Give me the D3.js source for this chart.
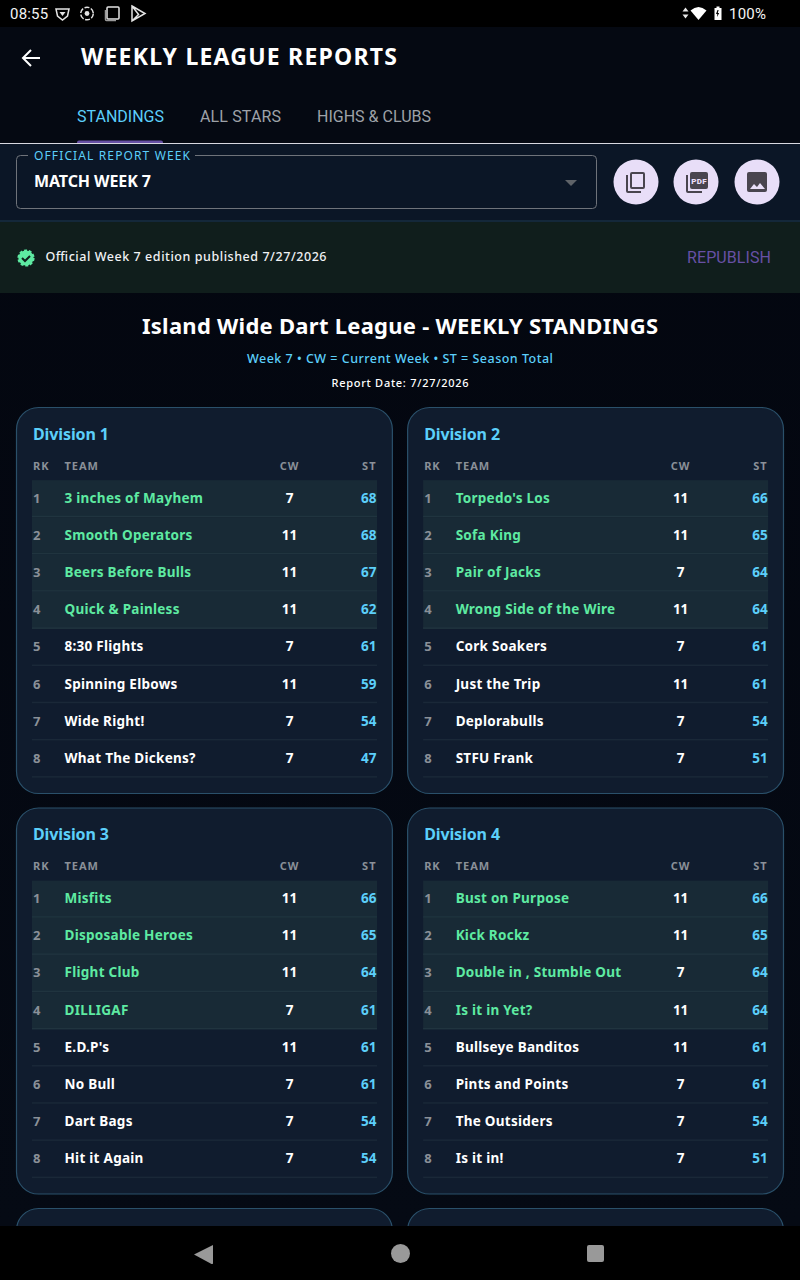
<!DOCTYPE html>
<html><head><meta charset="utf-8">
<script src="https://cdn.jsdelivr.net/npm/d3@7/dist/d3.min.js"></script>
<style>html,body{margin:0;padding:0;background:#000;overflow:hidden}svg{display:block}</style>
</head><body><div id="c"></div>
<script>
const divisionNames = ["Division 1","Division 2","Division 3","Division 4"];
const ranks = [1,2,3,4,5,6,7,8];
const columnLabels = ["RK","TEAM","CW","ST"];
const tabLabels = ["STANDINGS","ALL STARS","HIGHS & CLUBS"];
const teamsD1 = ["3 inches of Mayhem","Smooth Operators","Beers Before Bulls","Quick & Painless","8:30 Flights","Spinning Elbows","Wide Right!","What The Dickens?"];
const cwD1 = [7,11,11,11,7,11,7,7];
const stD1 = [68,68,67,62,61,59,54,47];
const teamsD2 = ["Torpedo's Los","Sofa King","Pair of Jacks","Wrong Side of the Wire","Cork Soakers","Just the Trip","Deplorabulls","STFU Frank"];
const cwD2 = [11,11,7,11,7,11,7,7];
const stD2 = [66,65,64,64,61,61,54,51];
const teamsD3 = ["Misfits","Disposable Heroes","Flight Club","DILLIGAF","E.D.P's","No Bull","Dart Bags","Hit it Again"];
const cwD3 = [11,11,11,7,11,7,7,7];
const stD3 = [66,65,64,61,61,61,54,54];
const teamsD4 = ["Bust on Purpose","Kick Rockz","Double in , Stumble Out","Is it in Yet?","Bullseye Banditos","Pints and Points","The Outsiders","Is it in!"];
const cwD4 = [11,11,7,11,11,7,7,7];
const stD4 = [66,65,64,64,61,61,54,51];
const allTeams=[teamsD1,teamsD2,teamsD3,teamsD4], allCw=[cwD1,cwD2,cwD3,cwD4], allSt=[stD1,stD2,stD3,stD4];
const playoffCut = 4;

const W=800,H=1280;
const UI='Roboto, sans-serif', DISP='"Noto Sans", Roboto, sans-serif';
const BLUE='#5ccffa', GREEN='#5eeaa2';
const svg=d3.select('#c').append('svg').attr('width',W).attr('height',H).attr('viewBox',`0 0 ${W} ${H}`);
const defs=svg.append('defs');
const g0=defs.append('linearGradient').attr('id','bg').attr('x1',0).attr('x2',0).attr('y1',0).attr('y2',1);
g0.append('stop').attr('offset',0).attr('stop-color','#03060f');
g0.append('stop').attr('offset',1).attr('stop-color','#050a14');
const cp=defs.append('clipPath').attr('id','view');cp.append('rect').attr('x',0).attr('y',27).attr('width',W).attr('height',1199);

function T(p,x,y,s,o={}){
  const t=p.append('text').attr('x',x).attr('y',y).text(s)
   .attr('font-family',o.f||DISP).attr('font-size',o.s||13).attr('font-weight',o.w||700)
   .attr('fill',o.c||'#fff').attr('text-anchor',o.a||'start');
  if(o.ls!=null)t.attr('letter-spacing',o.ls);
  if(o.len)t.attr('textLength',o.len).attr('lengthAdjust','spacing');
  return t;
}
svg.append('rect').attr('width',W).attr('height',H).attr('fill','#000');
const app=svg.append('g').attr('clip-path','url(#view)');
app.append('rect').attr('y',27).attr('width',W).attr('height',1199).attr('fill','url(#bg)');
// top bar
app.append('rect').attr('y',27).attr('width',W).attr('height',116).attr('fill','#050912');
app.append('path').attr('d','M40 58H23M31 50l-8 8 8 8').attr('fill','none').attr('stroke','#fff').attr('stroke-width',2);
T(app,81,65,'WEEKLY LEAGUE REPORTS',{s:23,w:700,len:316});
// tabs
const tabX=[77,200,317],tabW=[87,81,114];
tabLabels.forEach((l,i)=>T(app,tabX[i],122,l,{f:UI,s:16,w:400,c:i?'#9ea2a8':BLUE,len:tabW[i]}));
app.append('rect').attr('y',143).attr('width',W).attr('height',1).attr('fill','#d8d8e0');
app.append('path').attr('d','M77 143v-.5a2 2 0 0 1 2-2h82a2 2 0 0 1 2 2v.5z').attr('fill','#6750a4');
// control band
app.append('rect').attr('y',144).attr('width',W).attr('height',76).attr('fill','#0b1626');
app.append('rect').attr('y',220).attr('width',W).attr('height',2).attr('fill','#14283a');
app.append('rect').attr('x',16.5).attr('y',155.5).attr('width',580).attr('height',53).attr('rx',4).attr('fill','none').attr('stroke','#6f737a');
app.append('rect').attr('x',28).attr('y',150).attr('width',167).attr('height',12).attr('fill','#0b1626');
T(app,34,160,'OFFICIAL REPORT WEEK',{s:12,w:400,c:BLUE,len:156});
T(app,34,187,'MATCH WEEK 7',{s:16,w:700,len:117});
app.append('path').attr('d','M565 180h12l-6 6z').attr('fill','#5f6368');
const ic=[636,696,757];
ic.forEach(x=>app.append('circle').attr('cx',x).attr('cy',182).attr('r',22.5).attr('fill','#e8def8'));
const ib=app.append('g').attr('fill','#49454f');
ib.append('path').attr('d','M626 175h2v16h13v2h-13a2 2 0 0 1-2-2zM632 172h11a2 2 0 0 1 2 2v13a2 2 0 0 1-2 2h-11a2 2 0 0 1-2-2v-13a2 2 0 0 1 2-2zM632 174v13h11v-13z').attr('fill-rule','evenodd');
ib.append('path').attr('d','M686 175h2v16h14v2h-14a2 2 0 0 1-2-2zM692 172h14a2 2 0 0 1 2 2v13a2 2 0 0 1-2 2h-14a2 2 0 0 1-2-2v-13a2 2 0 0 1 2-2z');
T(app,699,184,'PDF',{f:UI,s:8,w:900,c:'#e8def8',a:'middle',ls:.3});
ib.append('path').attr('d','M749 172h16a2 2 0 0 1 2 2v16a2 2 0 0 1-2 2h-16a2 2 0 0 1-2-2v-16a2 2 0 0 1 2-2z');
app.append('path').attr('d','M750 189l4-5 3 3 3-4 5 6z').attr('fill','#e8def8');
// banner
app.append('rect').attr('y',222).attr('width',W).attr('height',71).attr('fill','#101e1c');
app.append('circle').attr('cx',26).attr('cy',258).attr('r',7.6).attr('fill',GREEN).attr('stroke',GREEN).attr('stroke-width',2).attr('stroke-dasharray','3 1.8');
app.append('path').attr('d','M22 258l3 3 5-5').attr('fill','none').attr('stroke','#101e1c').attr('stroke-width',2);
T(app,45.5,261,'Official Week 7 edition published 7/27/2026',{s:12.5,w:500,c:'#f0f2f4',len:281});
T(app,687,263,'REPUBLISH',{f:UI,s:16,w:400,c:'#6750a4',len:84});
// heading
T(app,400,334,'Island Wide Dart League - WEEKLY STANDINGS',{s:22,w:700,a:'middle',len:516});
T(app,400,363,'Week 7 • CW = Current Week • ST = Season Total',{s:12.5,w:500,c:BLUE,a:'middle',len:306});
T(app,400,387,'Report Date: 7/27/2026',{s:11,w:500,a:'middle',len:137});

// layout scales
const cardX=d3.scaleBand().domain([0,1]).range([16,784]).paddingInner(14/384).paddingOuter(0);
const cardTop=d3.scaleLinear().domain([0,1,2]).range([407.5,808,1208.5]);
const cardH=386;
function card(col,rowI){
  const g=app.append('g').attr('transform',`translate(${cardX(col)},${cardTop(rowI)})`);
  g.append('rect').attr('x',.5).attr('width',cardX.bandwidth()-1).attr('height',cardH).attr('rx',22)
    .attr('fill','#101c2e').attr('stroke','#2a506a').attr('stroke-width',1.2);
  return g;
}
const rowY=d3.scaleBand().domain(ranks).range([72.6,72.6+297.5]);
const colX={rk:17,team:48.5,cw:273.5,st:360.5};
divisionNames.forEach((name,i)=>{
  const g=card(i%2,Math.floor(i/2));
  T(g,17,32,name,{s:16,w:700,c:BLUE,len:76});
  [[colX.rk,'start'],[colX.team,'start'],[colX.cw,'middle'],[colX.st,'end']].forEach(([x,a],k)=>
    T(g,x,62.4,columnLabels[k],{s:11,w:700,c:'#8a9098',a,ls:1}));
  const rows=g.selectAll('g.r').data(ranks.map((r,j)=>({r,team:allTeams[i][j],cw:allCw[i][j],st:allSt[i][j],q:j<playoffCut})))
    .join('g').attr('class','r').attr('transform',d=>`translate(0,${rowY(d.r)})`);
  rows.filter(d=>d.q).append('rect').attr('x',16).attr('width',345).attr('height',rowY.bandwidth()).attr('fill','#182a36');
  rows.append('rect').attr('x',16).attr('y',rowY.bandwidth()-1.5).attr('width',345).attr('height',1.5).attr('fill',d=>d.q?'#20343f':'#1a2838');
  rows.append('text').attr('x',colX.rk).attr('y',22.5).text(d=>d.r).attr('font-family',DISP).attr('font-size',13).attr('font-weight',700).attr('fill','#8a9098');
  rows.append('text').attr('x',colX.team).attr('y',22.5).text(d=>d.team).attr('font-family',DISP).attr('font-size',13.5).attr('font-weight',700).attr('fill',d=>d.q?GREEN:'#fff').attr('letter-spacing',.27);
  rows.append('text').attr('x',colX.cw).attr('y',22.5).text(d=>d.cw).attr('font-family',DISP).attr('font-size',13.5).attr('font-weight',700).attr('fill','#fff').attr('text-anchor','middle');
  rows.append('text').attr('x',colX.st).attr('y',22.5).text(d=>d.st).attr('font-family',DISP).attr('font-size',13.5).attr('font-weight',700).attr('fill',BLUE).attr('text-anchor','end');
});
card(0,2);card(1,2);

// status bar
T(svg,10,19,'08:55',{f:UI,s:15,w:400,c:'#f4f4f4',ls:.2});
const st=svg.append('g').attr('fill','none').attr('stroke','#e4e4e4').attr('stroke-width',1.5);
st.append('path').attr('d','M56 9h13l-1.5 7-5 4-5-4z');st.append('path').attr('d','M59.5 12h6l-3 4z').attr('fill','#e4e4e4').attr('stroke','none');
st.append('circle').attr('cx',87).attr('cy',13.5).attr('r',6.3).attr('stroke-dasharray','5 1.6');st.append('circle').attr('cx',87).attr('cy',13.5).attr('r',2.4).attr('fill','#e4e4e4').attr('stroke','none');
st.append('rect').attr('x',107).attr('y',7).attr('width',12).attr('height',12).attr('rx',1);st.append('path').attr('d','M105.5 10v9.5a1 1 0 0 0 1 1H116').attr('stroke','#999');
st.append('path').attr('d','M132 6l13 7.5-13 7.5zM132 6l7 9M132 21l7-7');
svg.append('path').attr('d','M685.5 7.5l3 4h-6zM685.5 18.5l-3-4h6z').attr('fill','#e8e8e8');
svg.append('path').attr('d','M690.5 10.5Q698.5 3.5 706.5 10.5L698.5 20z').attr('fill','#fff');
svg.append('path').attr('d','M714.5 8h2V6.5h3V8h2v12h-7z M717.5 10l-1.5 4h1.3l-.3 3 2.2-4h-1.4l.8-3z').attr('fill','#fff').attr('fill-rule','evenodd');
T(svg,729,19,'100%',{f:UI,s:15,w:400,c:'#f4f4f4',ls:.2});
// nav bar
svg.append('path').attr('d','M213 1245v18.5l-.5.5-1 0-17.5-9.5z').attr('fill','#999');
svg.append('circle').attr('cx',400.5).attr('cy',1253.5).attr('r',9.5).attr('fill','#999');
svg.append('rect').attr('x',587).attr('y',1245).attr('width',17).attr('height',17).attr('rx',2).attr('fill','#999');
</script></body></html>
